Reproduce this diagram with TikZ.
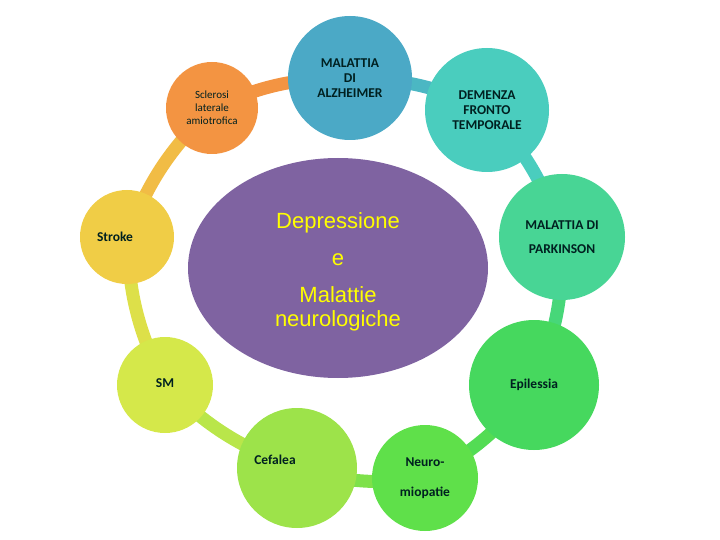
\documentclass[tikz,border=0pt]{standalone}
\usetikzlibrary{shapes.geometric}
\usepackage{fontspec}
\setmainfont{Carlito}
\newfontfamily\arialf{Liberation Sans}
\begin{document}
\begin{tikzpicture}[x=1pt,y=-1pt,
 bub/.style={circle,minimum size=#1,inner sep=0pt,align=center,text=black!75!teal,font=\bfseries\fontsize{13.5}{15}\selectfont},
 bub/.default=0pt,
 lnk/.style={line width=13pt,draw=#1,bend left=12}]
\useasboundingbox (0,0) rectangle (720,540);
\definecolor{cScl}{HTML}{F39442}
\definecolor{cAlz}{HTML}{4BA9C6}
\definecolor{cDem}{HTML}{4ACDBE}
\definecolor{cPar}{HTML}{48D595}
\definecolor{cEpi}{HTML}{46D85E}
\definecolor{cNeu}{HTML}{5FE04A}
\definecolor{cCef}{HTML}{9DE34A}
\definecolor{cSM}{HTML}{D5E84A}
\definecolor{cStr}{HTML}{F0CD46}
\definecolor{cEll}{HTML}{7F63A1}
\coordinate (scl) at (212,108);
\coordinate (alz) at (350,78);
\coordinate (dem) at (487,110);
\coordinate (par) at (562,237);
\coordinate (epi) at (534,385);
\coordinate (neu) at (425,478);
\coordinate (cef) at (297,468);
\coordinate (sm) at (165,385);
\coordinate (str) at (127,237);
\draw[lnk=cScl] (scl) to (alz);
\draw[lnk=cAlz!60!cDem] (alz) to (dem);
\draw[lnk=cDem] (dem) to (par);
\draw[lnk=cPar!50!cEpi] (par) to (epi);
\draw[lnk=cEpi!50!cNeu] (epi) to (neu);
\draw[lnk=cNeu!50!cCef] (neu) to (cef);
\draw[lnk=cCef!50!cSM] (cef) to (sm);
\draw[lnk=cSM!70!cStr] (sm) to (str);
\draw[lnk=cStr!70!cScl] (str) to (scl);
\node[ellipse,fill=cEll,minimum width=300,minimum height=220,inner sep=0pt] (ell) at (338,268) {};
\node[align=center,text={rgb,255:red,255;green,255;blue,0},font=\arialf\fontsize{22}{37}\selectfont] (ellt) at (338,272) {Depressione\\e\\Malattie\\[-13pt]neurologiche};
\node[bub=92pt,fill=cScl,font=\fontsize{11}{13}\selectfont] (nscl) at (scl) {Sclerosi\\laterale\\amiotrofica};
\node[bub=124pt,fill=cAlz] (nalz) at (alz) {MALATTIA\\DI\\ALZHEIMER};
\node[bub=124pt,fill=cDem] (ndem) at (dem) {DEMENZA\\FRONTO\\TEMPORALE};
\node[bub=126pt,fill=cPar,font=\bfseries\fontsize{13.5}{24}\selectfont] (npar) at (par) {MALATTIA DI\\PARKINSON};
\node[bub=130pt,fill=cEpi] (nepi) at (epi) {\raisebox{3pt}{Epilessia}};
\node[bub=106pt,fill=cNeu,font=\bfseries\fontsize{13.5}{30}\selectfont] (nneu) at (neu) {Neuro-\\miopatie};
\node[bub=120pt,fill=cCef] (ncef) at (cef) {};
\node[bub] (tcef) at (275,460) {Cefalea};
\node[bub=96pt,fill=cSM] (nsm) at (sm) {\raisebox{3pt}{SM}};
\node[bub=94pt,fill=cStr] (nstr) at (str) {};
\node[bub] (tstr) at (115,237) {Stroke};
\end{tikzpicture}
\end{document}
